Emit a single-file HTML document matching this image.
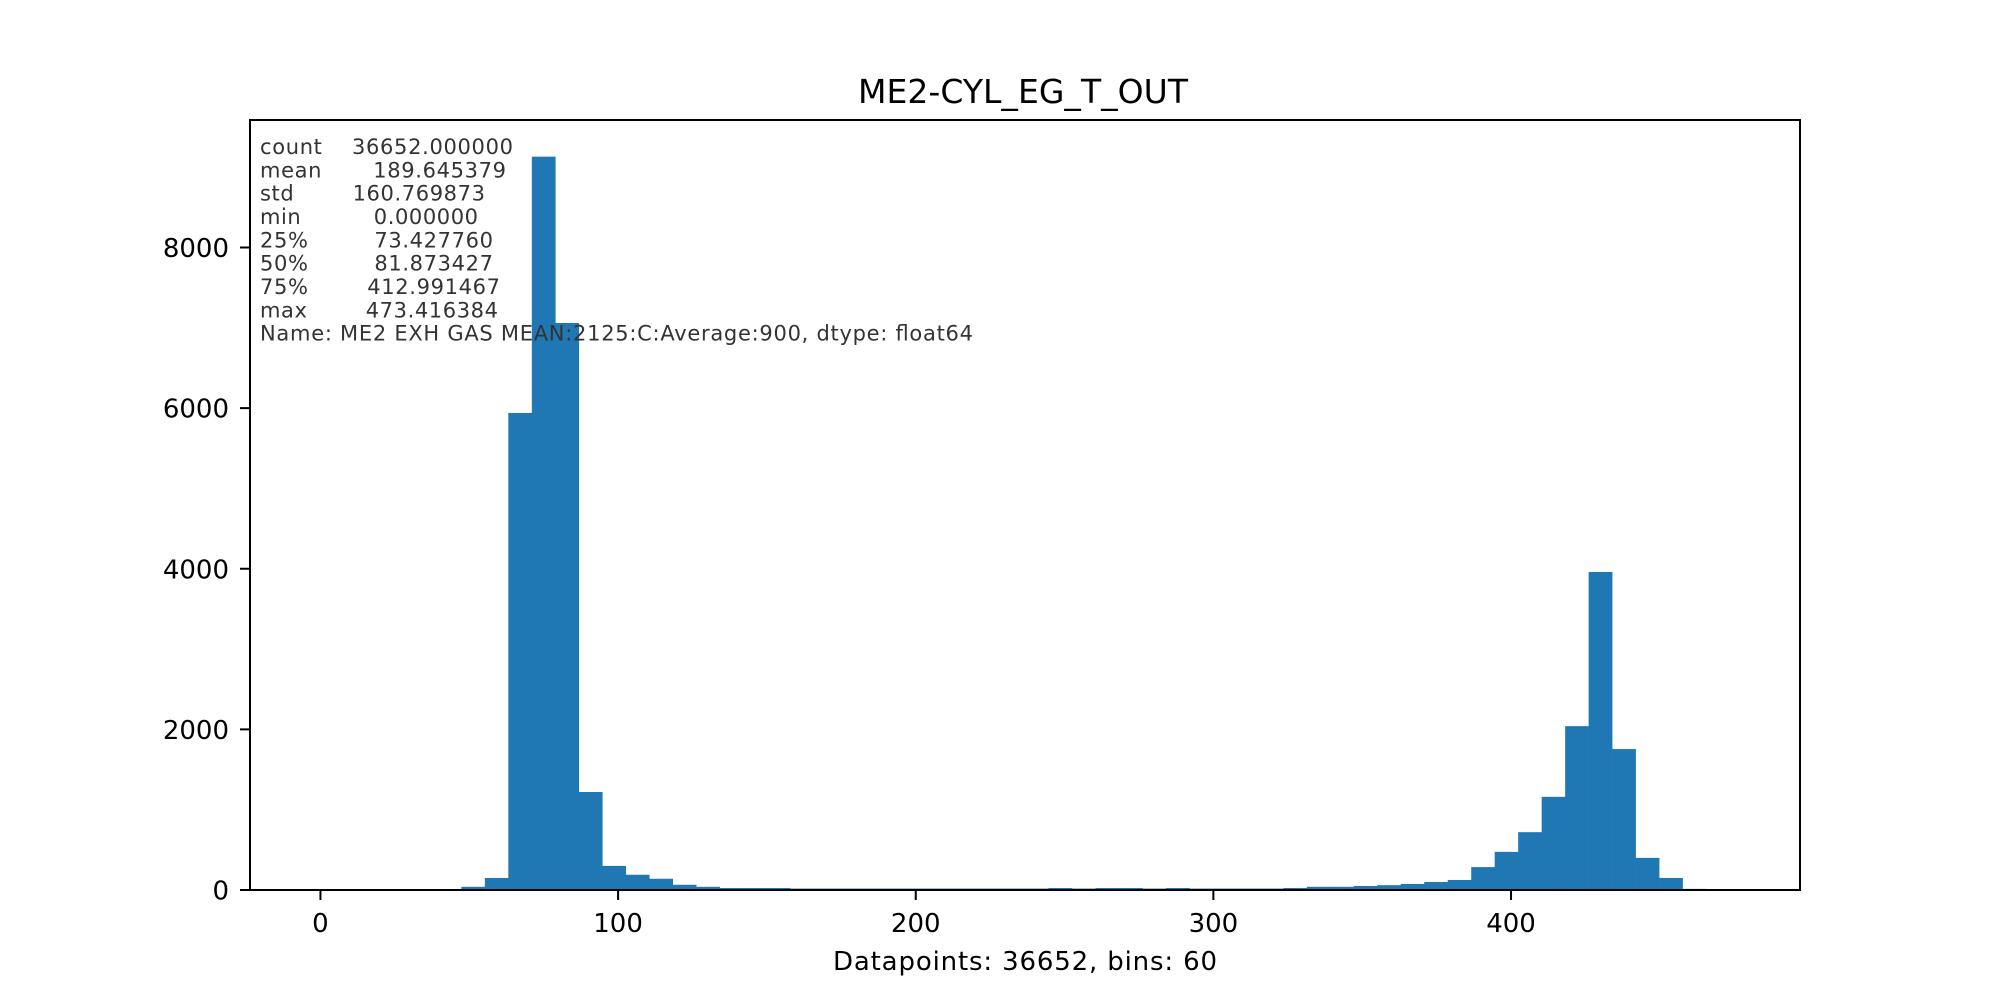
<!DOCTYPE html>
<html><head><meta charset="utf-8"><style>
html,body{margin:0;padding:0;background:#fff}
svg{display:block}
text{font-family:"DejaVu Sans","Liberation Sans",sans-serif}
</style></head><body>
<svg id="chart" width="2000" height="1000" xmlns="http://www.w3.org/2000/svg">
<rect x="0" y="0" width="2000" height="1000" fill="#fff"/>
<g id="bars"></g>
<g id="axes"></g>
<text x="1023" y="103" font-size="33" text-anchor="middle" textLength="330" fill="#000">ME2-CYL_EG_T_OUT</text>
<text x="1025" y="970" font-size="26" text-anchor="middle" textLength="384" fill="#000">Datapoints: 36652, bins: 60</text>
<g fill="#333" font-size="21" style="white-space:pre">
<text x="260" y="154" textLength="253" xml:space="preserve">count    36652.000000</text>
<text x="260" y="177.3" textLength="246" xml:space="preserve">mean       189.645379</text>
<text x="260" y="200.6" textLength="225" xml:space="preserve">std        160.769873</text>
<text x="260" y="224" textLength="218" xml:space="preserve">min          0.000000</text>
<text x="260" y="247.3" textLength="233" xml:space="preserve">25%         73.427760</text>
<text x="260" y="270.6" textLength="233" xml:space="preserve">50%         81.873427</text>
<text x="260" y="294" textLength="240" xml:space="preserve">75%        412.991467</text>
<text x="260" y="317.3" textLength="238" xml:space="preserve">max        473.416384</text>
<text x="260" y="340.6" textLength="713">Name: ME2 EXH GAS MEAN:2125:C:Average:900, dtype: float64</text>
</g>
</svg>
<script>
const dataMin = 0;
const dataMax = 473.416384;
const binCount = 60;
const counts = [2,0,0,0,0,0,40,150,5940,9131,7060,1220,300,190,140,65,40,25,25,25,
18,18,18,18,18,18,18,18,18,18,18,25,18,25,25,18,25,18,18,18,
18,25,40,40,50,60,75,100,125,285,475,720,1160,2040,3960,1755,400,150,14,2];
const xTicks = [0,100,200,300,400];
const xTickLabels = ["0","100","200","300","400"];
const yTicks = [0,2000,4000,6000,8000];
const yTickLabels = ["0","2000","4000","6000","8000"];

const L=250,R=1800,T=120,B=890;
const NS="http://www.w3.org/2000/svg";
const span=dataMax-dataMin;
const xMin=dataMin-0.05*span, xMax=dataMax+0.05*span;
const yMax=Math.max(...counts)*1.05;
function xs(v){return L+(v-xMin)/(xMax-xMin)*(R-L);}
function ys(v){return B-v/yMax*(B-T);}
function mk(tag,attrs,parent){const e=document.createElementNS(NS,tag);for(const k in attrs)e.setAttribute(k,attrs[k]);parent.appendChild(e);return e;}
const bars=document.getElementById('bars');
const bw=span/binCount;
counts.forEach((c,i)=>{
  const x0=xs(dataMin+i*bw), x1=xs(dataMin+(i+1)*bw);
  const r=mk('rect',{x:x0,y:ys(c),width:x1-x0+0.3,height:B-ys(c),fill:'#1f77b4'},bars);
  
  
});
const ax=document.getElementById('axes');
const fr=mk('rect',{x:L,y:T,width:R-L,height:B-T,fill:'none',stroke:'#000','stroke-width':2},ax);


xTicks.forEach((v,i)=>{
  const x=xs(v);
  const t=mk('line',{x1:x,x2:x,y1:B,y2:B+10,stroke:'#000','stroke-width':2},ax);
  
  
  const l=mk('text',{x:x,y:932,'font-size':26,'text-anchor':'middle',fill:'#000'},ax);
  l.textContent=xTickLabels[i];
  
  
});
yTicks.forEach((v,i)=>{
  const y=ys(v);
  const t=mk('line',{x1:L-10,x2:L,y1:y,y2:y,stroke:'#000','stroke-width':2},ax);
  
  
  const l=mk('text',{x:229,y:y+9.5,'font-size':26,'text-anchor':'end',fill:'#000'},ax);
  l.textContent=yTickLabels[i];
  
  
});
</script>
</body></html>
